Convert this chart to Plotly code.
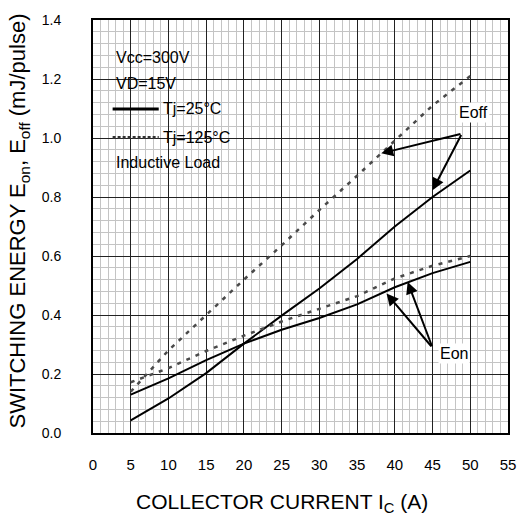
import plotly.graph_objects as go

current = [5, 10, 15, 20, 25, 30, 35, 40, 45, 50]
eoff_25 = [0.043, 0.117, 0.203, 0.303, 0.398, 0.49, 0.59, 0.70, 0.80, 0.89]
eoff_125 = [0.14, 0.28, 0.40, 0.52, 0.636, 0.756, 0.872, 0.99, 1.11, 1.21]
eon_25 = [0.13, 0.185, 0.247, 0.303, 0.35, 0.39, 0.436, 0.494, 0.542, 0.58]
eon_125 = [0.172, 0.22, 0.278, 0.33, 0.378, 0.42, 0.464, 0.524, 0.567, 0.60]

x_ticks = [0, 5, 10, 15, 20, 25, 30, 35, 40, 45, 50, 55]
y_ticks = [0.0, 0.2, 0.4, 0.6, 0.8, 1.0, 1.2, 1.4]

FONT = "Liberation Sans, Arial, sans-serif"
solid = dict(color="black", width=2)
dashed = dict(color="#4a4a4a", width=2.5, dash="4px,6px")

# plot-area geometry (px) used only for placing decorations in paper coords
L, R, T, B = 93, 516, 13.5, 433.5
def px(xp):
    return (xp - L) / (R - L)
def py(yp):
    return (B - yp) / (B - T)

fig = go.Figure()
fig.add_trace(go.Scatter(x=current, y=eoff_25, mode="lines", line=solid, name="Eoff Tj=25°C"))
fig.add_trace(go.Scatter(x=current, y=eon_25, mode="lines", line=solid, name="Eon Tj=25°C"))
fig.add_trace(go.Scatter(x=current, y=eoff_125, mode="lines", line=dashed, name="Eoff Tj=125°C"))
fig.add_trace(go.Scatter(x=current, y=eon_125, mode="lines", line=dashed, name="Eon Tj=125°C"))

axis_common = dict(
    showline=True, linecolor="black", linewidth=2, mirror=True,
    showgrid=True, gridcolor="#222222", gridwidth=1,
    zeroline=False, ticks="",
)

fig.update_xaxes(
    range=[0, 55], tickvals=x_ticks, ticktext=[str(v) for v in x_ticks],
    minor=dict(dtick=1, showgrid=True, gridcolor="#c4c4c4", gridwidth=1),
    ticklabelstandoff=17, tickfont=dict(family=FONT, size=15, color="black"),
    **axis_common)
fig.update_yaxes(
    range=[0, 1.4], tickvals=y_ticks, ticktext=[f"{v:.1f}" for v in y_ticks],
    minor=dict(dtick=0.04, showgrid=True, gridcolor="#c4c4c4", gridwidth=1),
    ticklabelstandoff=27, tickfont=dict(family=FONT, size=14, color="black"),
    **axis_common)

# axis titles
fig.add_annotation(x=px(285.5), y=py(505), xref="paper", yref="paper",
                   text="COLLECTOR CURRENT I<sub>C</sub> (A)", showarrow=False,
                   xanchor="center", yanchor="middle",
                   font=dict(family=FONT, size=21, color="black"))
fig.add_annotation(x=px(18), y=py(218), xref="paper", yref="paper",
                   text="SWITCHING ENERGY E<sub>on</sub>, E<sub>off</sub> (mJ/pulse)", showarrow=False,
                   xanchor="center", yanchor="middle", textangle=-90,
                   font=dict(family=FONT, size=22, color="black"))

# translucent box behind the condition texts
fig.add_shape(type="rect", xref="paper", yref="paper", layer="between",
              x0=px(97), x1=px(240), y0=py(172), y1=py(36),
              fillcolor="rgba(255,255,255,0.65)", line=dict(width=0))

def ptxt(xp, yp, s):
    fig.add_annotation(x=px(xp), y=py(yp), xref="paper", yref="paper", text=s, showarrow=False,
                       xanchor="left", yanchor="middle",
                       font=dict(family=FONT, size=16, color="black"))

ptxt(114, 52, "Vcc=300V")
ptxt(114, 78, "VD=15V")
ptxt(162, 104, "Tj=25°C")
ptxt(162, 133, "Tj=125°C")
ptxt(114, 158, "Inductive Load")

# legend keys
fig.add_shape(type="line", xref="paper", yref="paper", x0=px(113), x1=px(160), y0=py(104), y1=py(104),
              line=dict(color="black", width=3))
fig.add_shape(type="line", xref="paper", yref="paper", x0=px(113), x1=px(160), y0=py(133), y1=py(133),
              line=dict(color="#333333", width=3, dash="3px,2px"))

# Eoff arrows
for hx, hy in [(38.2, 0.948), (45.0, 0.823)]:
    fig.add_annotation(x=hx, y=hy, ax=48.9, ay=1.015, xref="x", yref="y", axref="x", ayref="y",
                       text="", showarrow=True, arrowhead=2, arrowsize=1.2, arrowwidth=2, arrowcolor="black")
fig.add_annotation(x=50.4, y=1.085, xref="x", yref="y", text="Eoff", showarrow=False,
                   font=dict(family=FONT, size=16, color="black"), bgcolor="white")
# Eon arrows
for hx, hy in [(38.9, 0.473), (41.7, 0.512)]:
    fig.add_annotation(x=hx, y=hy, ax=45.0, ay=0.289, xref="x", yref="y", axref="x", ayref="y",
                       text="", showarrow=True, arrowhead=2, arrowsize=1.2, arrowwidth=2, arrowcolor="black")
fig.add_annotation(x=47.8, y=0.27, xref="x", yref="y", text="Eon", showarrow=False,
                   font=dict(family=FONT, size=16, color="black"), bgcolor="white")

fig.update_layout(
    width=528, height=518,
    margin=dict(l=L, r=528 - R, t=T, b=518 - B),
    paper_bgcolor="white", plot_bgcolor="white",
    showlegend=False,
    font=dict(family=FONT, color="black"),
)

fig.write_html("out.html")
